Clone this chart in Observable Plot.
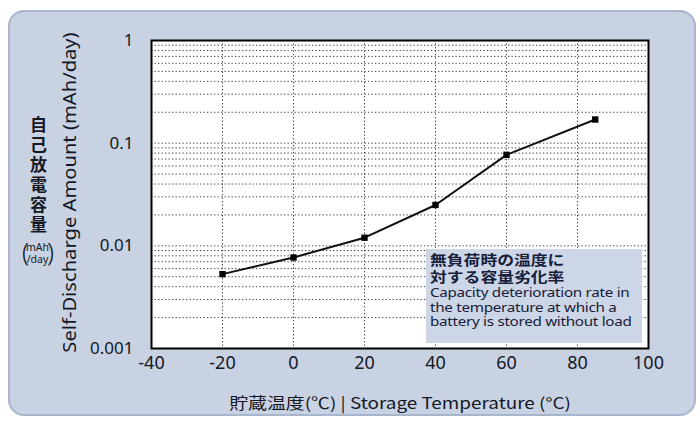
<!DOCTYPE html>
<html>
<head>
<meta charset="utf-8">
<script src="https://cdn.jsdelivr.net/npm/d3@7"></script>
<script src="https://cdn.jsdelivr.net/npm/@observablehq/plot@0.6"></script>
<style>
  html, body { margin: 0; padding: 0; background: #ffffff; }
  #wrap { position: relative; width: 700px; height: 421px; overflow: hidden; font-family: "Noto Sans", sans-serif; }
  #panel {
    position: absolute; left: 8px; top: 10px; width: 684px; height: 402px;
    background: #c8d2e3; border: 2px solid #a7b6cd; border-radius: 16px;
  }
  #chart { position: absolute; left: 0; top: 0; }
  #note {
    position: absolute; left: 426px; top: 249px; width: 216px; height: 94px;
    background: #cdd6e6; color: #17203a; padding: 2px 0 0 4px; box-sizing: border-box;
  }
  #note div { transform-origin: left center; white-space: nowrap; }
  #note .jp { font-family: "Noto Sans CJK JP", sans-serif; font-size: 14px; font-weight: bold; line-height: 17px; transform: scaleX(1.2); }
  #note .en { font-size: 13px; line-height: 14.5px; letter-spacing: -0.25px; transform: scaleX(1.17); }
</style>
</head>
<body>
<div id="wrap">
  <div id="panel"></div>
  <div id="chart"></div>
  <div id="note">
    <div class="jp">無負荷時の温度に</div>
    <div class="jp">対する容量劣化率</div>
    <div class="en">Capacity deterioration rate in</div>
    <div class="en">the temperature at which a</div>
    <div class="en">battery is stored without load</div>
  </div>
</div>
<script>
// Self-discharge per day at each storage temperature
const temps = [-20, 0, 20, 40, 60, 85];
const rates = [0.0053, 0.0077, 0.012, 0.025, 0.077, 0.17];

// Axis ticks
const xTicks = [-40, -20, 0, 20, 40, 60, 80, 100];
const yTicks = [0.001, 0.01, 0.1, 1];
const yTickLabels = ["0.001", "0.01", "0.1", "1"];

// Log grid: every 1..9 step inside each decade
const decades = [0.001, 0.01, 0.1];
const steps = [1, 2, 3, 4, 5, 6, 7, 8, 9];
const yGrid = decades.flatMap(d => steps.map(s => +(d * s).toPrecision(3)));

const data = temps.map((t, i) => ({t, rate: rates[i]}));

const gridStyle = {stroke: "#2a2a2a", strokeWidth: 1, strokeDasharray: "1.3,2.2", strokeOpacity: 0.9};
const ink = "#141824";
const label = {frameAnchor: "left", textAnchor: "middle", fill: ink};

const chart = Plot.plot({
  width: 700,
  height: 421,
  marginLeft: 151,
  marginRight: 52,
  marginTop: 40,
  marginBottom: 73,
  style: {background: "transparent", fontFamily: "'Noto Sans', sans-serif", color: ink, overflow: "visible"},
  x: {domain: [-40, 100]},
  y: {type: "log", domain: [0.001, 1]},
  marks: [
    Plot.frame({fill: "#ffffff", stroke: null}),
    Plot.ruleY(yGrid, gridStyle),
    Plot.ruleX(xTicks.slice(1, -1), gridStyle),
    Plot.frame({stroke: "#000000", strokeWidth: 2}),
    Plot.line(data, {x: "t", y: "rate", stroke: "#111111", strokeWidth: 2}),
    Plot.dot(data, {x: "t", y: "rate", symbol: "square", r: 3.6, fill: "#000000", stroke: null}),
    Plot.axisX({ticks: xTicks, tickSize: 0, tickPadding: 8, fontSize: 18, label: null, tickFormat: d => String(d)}),
    Plot.axisY({ticks: yTicks, tickSize: 0, tickPadding: 18, fontSize: 17, label: null,
      tickFormat: d => yTickLabels[yTicks.indexOf(d)]}),
    // y-axis titles
    Plot.text(["Self-Discharge Amount (mAh/day)"], {...label, rotate: -90, dx: -81, dy: -2, fontSize: 18.5, className: "ytitle"}),
    Plot.text(["自己放電容量"], {...label, dx: -113, dy: -24, fontSize: 17, fontWeight: "bold",
      fontFamily: "'Noto Sans CJK JP', sans-serif", className: "cjk"}),
    Plot.text(["mAh\n/day"], {...label, dx: -114, dy: 59, fontSize: 10.5, lineHeight: 1.15}),
    Plot.text(["("], {...label, dx: -126, dy: 58, fontSize: 25, fontWeight: 300}),
    Plot.text([")"], {...label, dx: -101, dy: 58, fontSize: 25, fontWeight: 300}),
    // x-axis title
    Plot.text(["貯蔵温度(℃) | Storage Temperature (°C)"], {frameAnchor: "bottom", dy: 60, fontSize: 15.5, fill: ink,
      fontFamily: "'Noto Sans CJK JP', 'Noto Sans', sans-serif", className: "xtitle"})
  ]
});

// Widen a text along its own baseline, keeping its anchor in place
function stretch(selector, s) {
  d3.select(chart).selectAll(selector + " text").each(function() {
    const x = +this.getAttribute("x") || 0, y = +this.getAttribute("y") || 0;
    const t = this.getAttribute("transform") || "";
    this.setAttribute("transform", `${t} translate(${x},${y}) scale(${s},1) translate(${-x},${-y})`);
  });
}
stretch(".xtitle", 1.22);
stretch(".ytitle", 1.09);

// Upright vertical setting for the Japanese y title
d3.select(chart).selectAll(".cjk text")
  .attr("writing-mode", "vertical-rl")
  .attr("dy", null)
  .style("letter-spacing", "3px");

document.getElementById("chart").appendChild(chart);
</script>
</body>
</html>
